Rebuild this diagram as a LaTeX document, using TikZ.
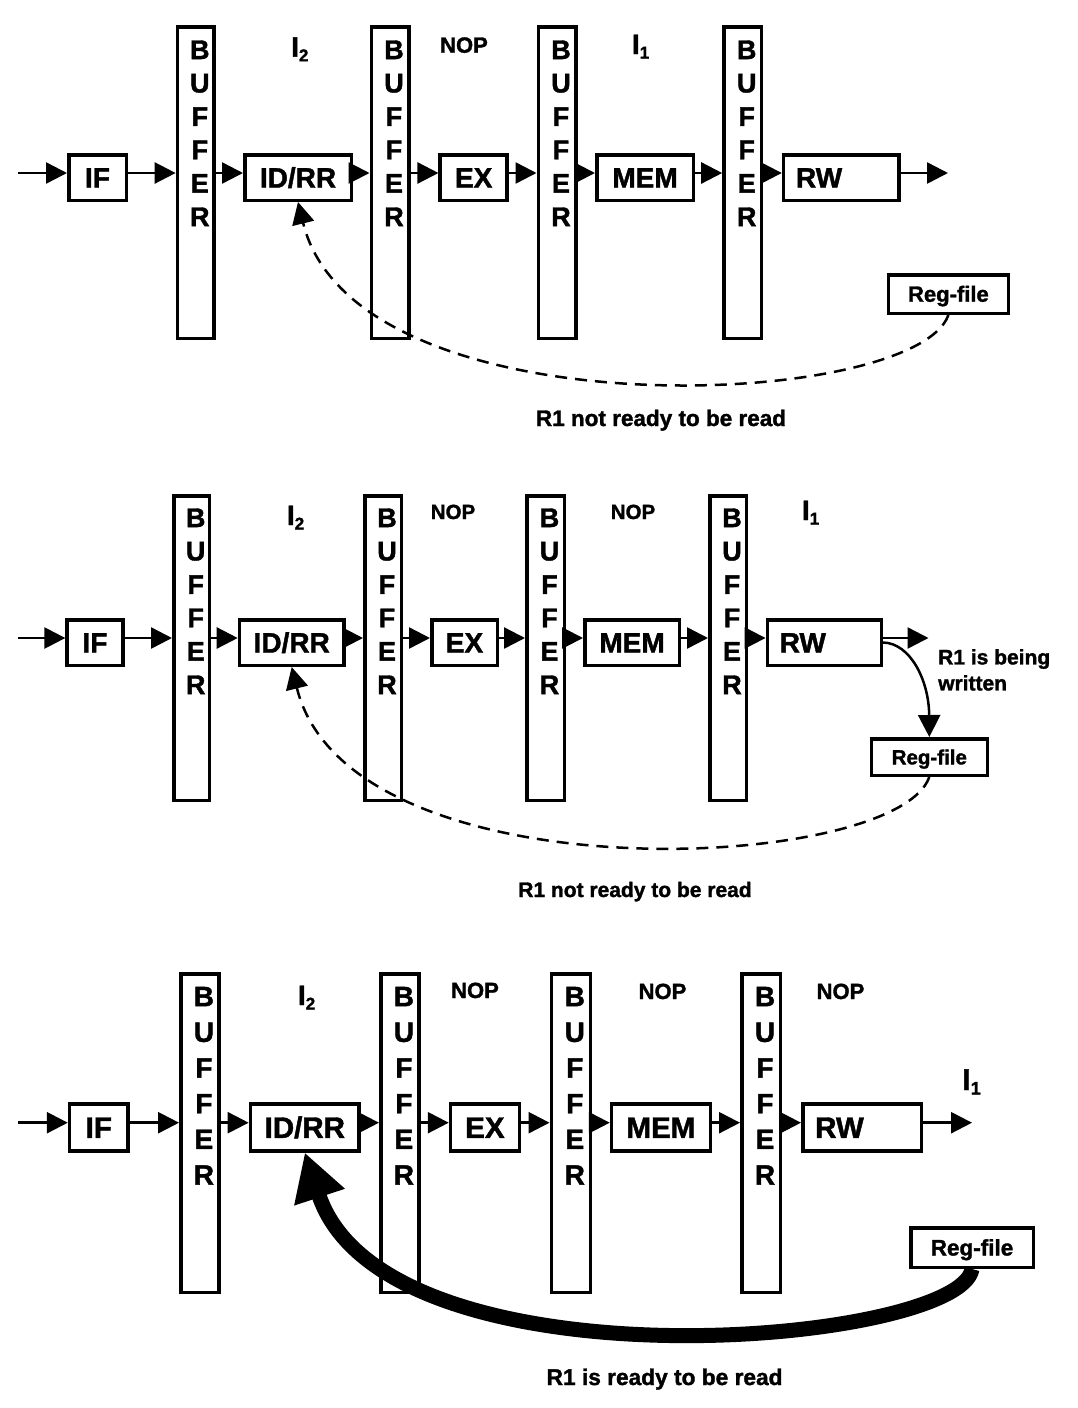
\documentclass[tikz,border=0pt]{standalone}
\usepackage{fontspec}
\setmainfont{Liberation Sans}[BoldFeatures={FakeBold=1.5}]
\usetikzlibrary{arrows.meta}
\newcommand{\pbuf}[6]{%
  \node[bufbox, minimum width=#4pt, minimum height=#5pt] (#1) at (#2,#3) {};
  \node[buftext] (#1t) at (#2+4,#6) {B\\U\\F\\F\\E\\R};}
\newcommand{\isub}[2]{I\raisebox{-4.5pt}{\fontsize{#2}{#2}\selectfont #1}}
\tikzset{
 stage/.style={draw, line width=3.5pt, inner sep=0pt, text height=20pt, text depth=0pt, font=\bfseries\fontsize{28}{28}\selectfont},
 bufbox/.style={draw, line width=3.5pt, inner sep=0pt},
 buftext/.style={anchor=north, align=center, inner sep=0pt, font=\bfseries\fontsize{27}{33.4}\selectfont},
 regbox/.style={draw, line width=3.5pt, inner sep=0pt, text height=15.4pt, text depth=0pt, font=\bfseries\fontsize{22}{22}\selectfont},
 boxtext/.style={inner sep=0pt, text height=20pt, text depth=0pt, font=\bfseries\fontsize{28}{28}\selectfont},
 nop/.style={anchor=base, inner sep=0pt, font=\bfseries\fontsize{22}{22}\selectfont},
 instr/.style={anchor=base west, inner sep=0pt, font=\bfseries\fontsize{28}{28}\selectfont},
 note/.style={anchor=base, inner sep=0pt, font=\bfseries\fontsize{22.5}{22.5}\selectfont},
 flow/.style={line width=2.5pt, -{Triangle[length=21pt,width=21pt]}},
 readwait/.style={line width=2.5pt, dash pattern=on 12pt off 8pt, -{Triangle[length=22pt,width=22pt]}},
 readok/.style={line width=15pt, -{Triangle[length=47pt,width=50pt]}},
 writeback/.style={line width=2.5pt, -{Triangle[length=22pt,width=22pt]}},
}
\begin{document}
\begin{tikzpicture}[x=1pt,y=-1pt]
\useasboundingbox (0,0) rectangle (1078,1408);

% ---------------- Panel 1 ----------------
\coordinate (r1) at (0,173);
\coordinate (in1) at (18,173);
\coordinate (out1) at (948,173);
\node[stage, minimum width=57.5pt, minimum height=45.5pt] (if1) at (97.5,177.5) {IF};
\pbuf{b11}{195.8}{182.5}{36.8}{311.5}{40.3}
\node[stage, minimum width=106.5pt, minimum height=45.5pt] (id1) at (298,177.5) {ID/RR};
\pbuf{b12}{390}{182.5}{37.5}{311.5}{40.3}
\node[stage, minimum width=67pt, minimum height=45.5pt] (ex1) at (473.7,177.5) {EX};
\pbuf{b13}{557}{182.5}{37.5}{311.5}{40.3}
\node[stage, minimum width=96.5pt, minimum height=45.5pt] (mem1) at (645,177.5) {MEM};
\pbuf{b14}{742.7}{182.5}{37.5}{311.5}{40.3}
\node[stage, minimum width=115.5pt, minimum height=45.5pt] (rw1) at (841.3,177.5) {};
\node[boxtext, anchor=west] (rw1t) at ([xshift=14pt]rw1.west) {RW};
\node[regbox, minimum width=119.8pt, minimum height=38.5pt] (reg1) at (948.4,294) {Reg-file};
\node[instr] (i21) at (291,56.7) {\isub{2}{17}};
\node[nop] (nop11) at (464,52.7) {NOP};
\node[instr] (i11) at (631.8,54) {\isub{1}{17}};
\node[note] (note1) at (661,426) {R1 not ready to be read};
\draw[flow] (in1) -- (if1.west |- r1);
\foreach \a/\b in {if1/b11, b11/id1, id1/b12, b12/ex1, ex1/b13, b13/mem1, mem1/b14, b14/rw1}
  \draw[flow] (\a.east |- r1) -- (\b.west |- r1);
\draw[flow] (rw1.east |- r1) -- (out1);
\draw[readwait] (reg1.south) .. controls (915,410) and (355,435) .. (id1.south);

% ---------------- Panel 2 ----------------
\coordinate (r2) at (0,638);
\coordinate (in2) at (18,638);
\coordinate (out2) at (928.5,638);
\node[stage, minimum width=55.8pt, minimum height=45.5pt] (if2) at (95,642.5) {IF};
\pbuf{b21}{191.7}{648}{35.9}{304.5}{508.3}
\node[stage, minimum width=104.5pt, minimum height=45.5pt] (id2) at (291.7,642.5) {ID/RR};
\pbuf{b22}{383}{648}{36.5}{304.5}{508.3}
\node[stage, minimum width=65.5pt, minimum height=45.5pt] (ex2) at (464.5,642.5) {EX};
\pbuf{b23}{545.5}{648}{37.5}{304.5}{508.3}
\node[stage, minimum width=94.5pt, minimum height=45.5pt] (mem2) at (632,642.5) {MEM};
\pbuf{b24}{728}{648}{36.5}{304.5}{508.3}
\node[stage, minimum width=114pt, minimum height=45.5pt] (rw2) at (824.3,642.5) {};
\node[boxtext, anchor=west] (rw2t) at ([xshift=14pt]rw2.west) {RW};
\node[regbox, minimum width=116pt, minimum height=36.5pt, font=\bfseries\fontsize{20.5}{20.5}\selectfont, text height=14.7pt] (reg2) at (929.3,757) {Reg-file};
\node[instr] (i22) at (286.8,525) {\isub{2}{17}};
\node[nop, font=\bfseries\fontsize{20.5}{20.5}\selectfont] (nop21) at (453,519) {NOP};
\node[nop, font=\bfseries\fontsize{20.5}{20.5}\selectfont] (nop22) at (633,519) {NOP};
\node[instr] (i12) at (801.8,520) {\isub{1}{17}};
\node[anchor=north west, align=left, inner sep=0pt, font=\bfseries\fontsize{21}{26}\selectfont] (wr2) at (938,649) {R1 is being\\written};
\node[note, font=\bfseries\fontsize{21}{21}\selectfont] (note2) at (635,897) {R1 not ready to be read};
\draw[flow] (in2) -- (if2.west |- r2);
\foreach \a/\b in {if2/b21, b21/id2, id2/b22, b22/ex2, ex2/b23, b23/mem2, mem2/b24, b24/rw2}
  \draw[flow] (\a.east |- r2) -- (\b.west |- r2);
\draw[flow] (rw2.east |- r2) -- (out2);
\draw[writeback] (rw2.east) .. controls (910,643) and (929,680) .. (reg2.north);
\draw[readwait] (reg2.south) .. controls (896,873) and (349,899) .. (id2.south);

% ---------------- Panel 3 ----------------
\begin{scope}[stage/.append style={text height=21pt, font=\bfseries\fontsize{29.5}{29.5}\selectfont},
              boxtext/.append style={text height=21pt, font=\bfseries\fontsize{29.5}{29.5}\selectfont},
              buftext/.append style={font=\bfseries\fontsize{28}{35.7}\selectfont}]
\coordinate (r3) at (0,1122.7);
\coordinate (in3) at (18,1122.7);
\coordinate (out3) at (972,1122.7);
\node[stage, minimum width=58.5pt, minimum height=47pt] (if3) at (98.8,1127.3) {IF};
\pbuf{b31}{199.9}{1133}{38.2}{318.5}{986.7}
\node[stage, minimum width=108.8pt, minimum height=47pt] (id3) at (304.8,1127.3) {ID/RR};
\pbuf{b32}{399.9}{1133}{38.3}{318.5}{986.7}
\node[stage, minimum width=68.8pt, minimum height=47pt] (ex3) at (484.9,1127.3) {EX};
\pbuf{b33}{570.8}{1133}{39}{318.5}{986.7}
\node[stage, minimum width=98.8pt, minimum height=47pt] (mem3) at (660.9,1127.3) {MEM};
\pbuf{b34}{761}{1133}{38.5}{318.5}{986.7}
\node[stage, minimum width=118.5pt, minimum height=47pt] (rw3) at (862,1127.3) {};
\node[boxtext, anchor=west] (rw3t) at ([xshift=14pt]rw3.west) {RW};
\node[regbox, minimum width=122.5pt, minimum height=39.5pt, font=\bfseries\fontsize{22.5}{22.5}\selectfont, text height=16pt] (reg3) at (972,1247.5) {Reg-file};
\node[instr] (i23) at (297.8,1005) {\isub{2}{17}};
\node[nop] (nop31) at (475,998) {NOP};
\node[nop] (nop32) at (662.5,999) {NOP};
\node[nop] (nop33) at (840.5,999) {NOP};
\node[instr, font=\bfseries\fontsize{30}{30}\selectfont] (i13) at (962.2,1090) {\isub{1}{18}};
\node[note, font=\bfseries\fontsize{22.7}{22.7}\selectfont] (note3) at (664.6,1385) {R1 is ready to be read};
\draw[flow] (in3) -- (if3.west |- r3);
\foreach \a/\b in {if3/b31, b31/id3, id3/b32, b32/ex3, ex3/b33, b33/mem3, mem3/b34, b34/rw3}
  \draw[flow] (\a.east |- r3) -- (\b.west |- r3);
\draw[flow] (rw3.east |- r3) -- (out3);
\draw[readok] (reg3.south) .. controls (960,1345) and (385,1395) .. (id3.south);
\end{scope}
\end{tikzpicture}
\end{document}
